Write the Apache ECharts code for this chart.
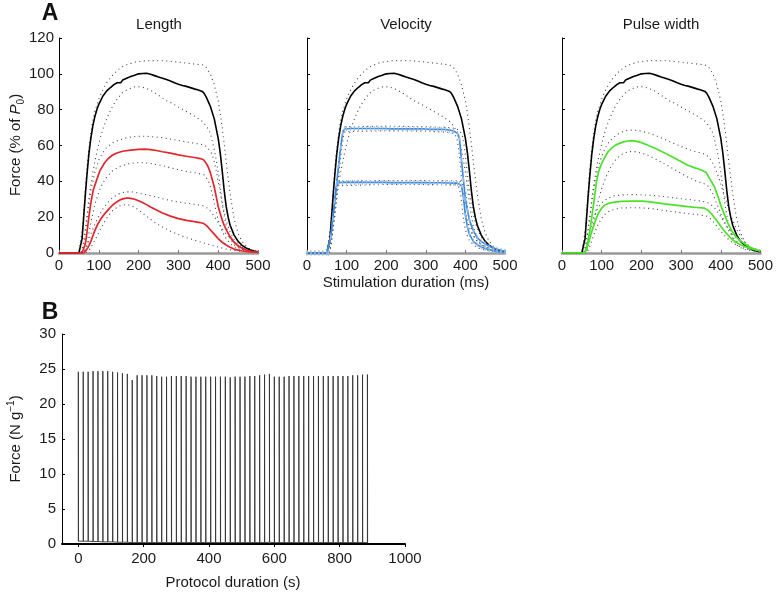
<!DOCTYPE html>
<html>
<head>
<meta charset="utf-8">
<script src="https://cdn.jsdelivr.net/npm/echarts@6/dist/echarts.min.js"></script>
<style>html,body{margin:0;padding:0;background:#fff}#c{width:776px;height:594px}</style>
</head>
<body>
<div id="c"></div>
<script>
// ---------- Panel A data: force (% of P0) vs stimulation duration (ms) ----------
const blackMean = [[0,0],[50,0],[55,0.5],[58,8],[62,20],[66,32],[70,43],[75,55],[80,64],[85,71],[90,76],[95,80],[100,83],[110,87.5],[120,90.5],[130,92.5],[138,94],[142,93.5],[146,95],[150,95.5],[155,95],[160,96.5],[170,97.5],[180,98.5],[185,99.5],[190,99.2],[200,100],[210,100.2],[215,99.8],[220,100.3],[230,99.8],[240,99],[250,98.2],[260,97.5],[270,96.8],[280,96],[290,95],[300,94.2],[310,93.5],[320,93],[330,92.3],[340,91.6],[350,91],[360,90.2],[365,89],[370,87],[380,82],[390,75],[400,64],[405,56],[410,46],[415,35],[420,26],[425,20],[430,15.5],[440,10],[450,6.5],[460,4.3],[470,2.8],[480,1.8],[490,1.1],[500,0.7]];
const blackUpper = [[0,0],[50,0],[55,1],[60,15],[65,32],[70,47],[75,58],[80,67],[85,74],[90,79],[100,86],[110,91],[120,95],[130,98],[140,100.5],[150,102.5],[160,104],[175,105.5],[190,106.5],[210,107.2],[230,107.4],[260,107.3],[290,106.8],[320,106],[340,105.5],[360,105],[370,103.5],[380,100],[390,94],[400,85],[405,78],[410,70],[415,61],[420,51],[425,42],[430,33],[435,26],[440,19],[450,11],[460,6.5],[470,3.8],[480,2.2],[490,1.2],[500,0.7]];
const blackLower = [[0,0],[55,0],[60,4],[65,12],[70,20],[75,30],[80,38],[85,45],[90,51],[100,61],[110,69],[120,75],[130,80],[140,84],[150,87],[160,89.5],[170,91],[180,92],[190,92.7],[200,92.8],[210,92.5],[220,91.8],[230,90.8],[240,89.5],[250,88],[260,86.5],[270,85],[280,84],[290,82.8],[300,81.5],[320,79],[340,76.5],[360,73.5],[370,71],[380,67],[390,58],[395,52],[400,45],[405,37],[410,28],[415,21],[420,15],[430,8],[440,4.5],[450,3],[460,2],[480,1],[500,0.5]];

const lengthHighMean = [[0,0],[58,0],[62,1],[66,5],[70,11],[75,20],[80,28],[86,35],[95,41],[103,46],[115,50.5],[125,53],[135,54.7],[145,55.8],[160,56.8],[180,57.4],[200,57.8],[215,58],[230,57.7],[245,57.2],[260,56.5],[280,55.7],[300,54.8],[320,54],[340,53.3],[355,52.7],[363,52],[370,50],[375,48],[380,45],[385,41],[390,37],[395,31.5],[400,26],[405,22],[410,18.5],[415,15.5],[420,13],[430,9],[440,6],[450,4],[460,2.6],[470,1.7],[480,1.1],[490,0.7],[500,0.5]];
const lengthHighUpper = [[0,0],[55,0],[60,2],[65,9],[70,18],[75,27],[80,35],[90,45],[100,52],[110,56],[120,59],[135,61.5],[150,63],[170,64.3],[190,65],[210,65.2],[230,65],[260,64.4],[290,63.2],[320,62],[340,61.3],[360,60.5],[370,59.5],[380,57],[385,55],[390,51],[395,46],[400,40],[405,34],[410,28],[415,23],[420,18],[430,11.5],[440,7.5],[450,5],[460,3.3],[470,2],[480,1.3],[490,0.9],[500,0.6]];
const lengthHighLower = [[0,0],[62,0],[66,2],[70,5],[75,11],[80,17],[90,27],[100,34],[110,39],[120,42.5],[135,46],[150,48],[170,49.6],[190,50.3],[210,50.4],[230,50],[250,49.2],[270,48.2],[290,47],[310,46],[330,45.2],[350,44.4],[365,43.5],[375,40.5],[380,37.5],[385,33],[390,28],[395,23],[400,18.5],[405,15],[410,12],[420,8],[430,5.3],[440,3.5],[450,2.3],[470,1.2],[500,0.4]];
const lengthLowMean = [[0,0],[62,0],[66,0.8],[70,2],[75,4],[80,6.5],[85,9.5],[90,12.5],[97,16],[105,19],[115,22],[125,24.5],[135,26.8],[145,28.5],[155,29.8],[165,30.5],[172,30.7],[180,30.5],[190,30],[200,29.2],[210,28.2],[220,27],[230,25.7],[245,24],[260,22.3],[280,20.6],[300,19.2],[320,18.2],[340,17.5],[355,17],[365,16.3],[372,15],[380,13],[390,10.5],[400,8],[410,6],[420,4.5],[430,3.2],[440,2.2],[450,1.6],[460,1.1],[480,0.6],[500,0.4]];
const lengthLowUpper = [[0,0],[60,0],[65,1.5],[70,4],[75,7],[80,10.5],[90,16],[100,20.5],[110,24.5],[120,27.5],[135,31],[150,33],[165,34],[180,34.2],[200,33.5],[220,32.5],[240,31.5],[260,30.3],[280,29.3],[300,28.5],[320,27.8],[340,27.2],[360,26.5],[370,25.5],[380,23.5],[390,20.5],[400,17],[410,13.5],[420,10.5],[430,8],[440,6],[450,4.5],[460,3.2],[470,2.3],[480,1.6],[490,1.1],[500,0.8]];
const lengthLowLower = [[0,0],[66,0],[70,0.5],[75,1.5],[80,3],[90,7],[100,11.5],[110,15.5],[120,19.5],[130,22.5],[140,24.7],[150,26],[160,26.8],[170,27],[180,26.6],[190,25.5],[200,24],[210,22.3],[220,20.5],[230,18.8],[240,17.2],[250,15.8],[260,14.5],[280,12.2],[300,10.3],[320,8.6],[340,7.2],[360,5.9],[380,4.6],[400,3.3],[420,2.2],[440,1.4],[460,0.9],[480,0.5],[500,0.3]];

const velHighMean = [[0,0],[10,0],[20,0],[30,0],[40,0],[50,0],[55,0],[60,9],[65,19],[70,29],[75,39],[80,49],[85,59],[90,67],[95,69.2],[100,69.5],[110,69.5],[120,69.5],[130,69.5],[140,69.5],[150,69.5],[160,69.5],[170,69.5],[180,69.5],[190,69.5],[200,69.5],[210,69.3],[220,69.3],[230,69.3],[240,69.3],[250,69.3],[260,69.3],[270,69.3],[280,69.3],[290,69.3],[300,69.2],[310,69],[320,69],[330,69],[340,69],[350,68.9],[360,68.6],[370,68.1],[380,66.8],[385,64],[390,52],[395,41],[400,30],[405,24],[410,18.5],[420,12.5],[430,8.5],[440,6.5],[450,5],[460,3.8],[470,2.8],[480,2.1],[490,1.5],[500,1]];
const velHighUpper = [[0,0],[53,0],[58,6],[63,16],[68,26],[73,36],[78,46],[83,56],[88,64],[92,69],[96,70.5],[100,70.8],[200,70.8],[300,70.5],[360,70],[375,69.5],[385,68.5],[392,66],[397,60],[402,50],[407,40],[412,31],[418,24],[425,17],[435,11],[445,7.5],[460,4.5],[475,2.7],[490,1.6],[500,1.1]];
const velHighLower = [[0,0],[57,0],[62,7],[67,17],[72,27],[77,37],[82,47],[87,57],[92,65],[96,67.8],[100,68.2],[200,68.2],[300,68],[360,67.3],[372,66.5],[378,64.5],[383,58],[388,47],[392,37],[396,29],[400,23],[405,18],[410,14],[418,10],[428,7],[440,4.8],[455,3.1],[470,2],[485,1.2],[500,0.7]];
const velLowMean = [[0,0],[10,0],[20,0],[30,0],[40,0],[50,0],[55,0],[60,9],[65,19],[70,29],[75,37.5],[80,39.2],[90,39.4],[100,39.4],[110,39.4],[120,39.4],[130,39.4],[140,39.4],[150,39.4],[160,39.4],[170,39.4],[180,39.4],[190,39.4],[200,39.4],[210,39.3],[220,39.3],[230,39.3],[240,39.3],[250,39.3],[260,39.3],[270,39.3],[280,39.3],[290,39.3],[300,39.3],[310,39.2],[320,39.2],[330,39.2],[340,39.2],[350,39.1],[360,39.1],[370,39],[380,39],[385,38.6],[390,37.5],[395,31],[400,21],[405,14.5],[410,10.5],[420,6.5],[430,4.6],[440,3.4],[450,2.5],[460,1.8],[470,1.3],[480,0.9],[490,0.6],[500,0.5]];
const velLowUpper = [[0,0],[53,0],[58,6],[63,16],[68,26],[73,36],[77,40],[80,40.5],[200,40.5],[300,40.5],[380,40.3],[390,40],[395,39],[400,35],[404,28],[408,21],[413,15],[420,10],[430,6.5],[440,4.6],[455,3],[470,2],[485,1.3],[500,0.9]];
const velLowLower = [[0,0],[57,0],[62,7],[67,17],[72,27],[75,33],[78,37.5],[82,38.2],[200,38.3],[300,38.2],[375,38],[383,37],[388,33],[391,27],[394,21],[398,15],[403,10.5],[410,7],[420,4.5],[430,3],[445,1.9],[460,1.2],[480,0.6],[500,0.4]];

const pwHighMean = [[0,0],[57,0],[62,3],[66,7],[70,12],[75,20],[80,28],[87,40],[93,46],[100,50],[108,53.5],[116,56.5],[125,58.5],[135,60.2],[145,61.2],[155,62],[165,62.5],[175,62.7],[185,62.4],[200,61.6],[215,60.3],[234,58.5],[255,56.2],[276,53.8],[295,51.6],[317,49],[335,47.5],[351,46.3],[363,44.9],[372,41.5],[384,37],[393,31.5],[401,26],[410,21],[418,16.6],[426,13],[435,10],[447,7.2],[460,5.2],[475,3.1],[493,1.5],[500,1]];
const pwHighUpper = [[0,0],[55,0],[60,5],[65,12],[70,20],[75,28],[80,36],[90,47],[100,54],[110,59],[120,62.5],[135,65.5],[150,67.5],[165,68.5],[180,68.7],[200,68],[220,66.8],[240,65.2],[260,63.3],[280,61.3],[300,59.5],[320,57.7],[340,56.3],[355,55.5],[365,54.5],[375,52],[385,48],[395,42],[405,35],[415,28],[425,21],[435,15.5],[445,11],[455,7.5],[465,5],[480,2.8],[500,1.3]];
const pwHighLower = [[0,0],[60,0],[65,3],[70,7],[75,12],[80,18],[90,28],[100,36],[110,42],[120,47],[135,52],[150,55],[165,56.5],[180,56.7],[200,55.8],[220,54.2],[240,52],[260,49.5],[280,47],[300,44.5],[320,42],[340,40],[360,38.5],[370,37],[380,33],[390,27.5],[400,22],[410,17],[420,12.5],[430,9],[440,6.4],[450,4.6],[465,2.8],[480,1.7],[500,0.8]];
const pwLowMean = [[0,0],[57,0],[62,2],[66,5],[71,9],[75,12],[79,14.7],[85,18.5],[91,22],[100,25],[108,26.8],[118,27.8],[133,28.4],[150,28.8],[175,28.9],[200,28.9],[217,28.7],[240,28],[259,27.4],[290,26.6],[317,25.9],[340,25.4],[359,25],[368,23.8],[376,22],[388,18.5],[401,14.7],[413,11.2],[426,8.2],[438,6],[451,4.5],[468,3],[485,1.8],[500,1.2]];
const pwLowUpper = [[0,0],[57,0],[62,4],[67,9],[72,14],[80,20],[90,25],[100,28],[115,30.5],[130,31.8],[150,32.4],[175,32.6],[200,32.5],[225,32.2],[250,31.7],[275,31],[300,30.3],[325,29.7],[350,29],[365,28.3],[375,27],[385,25],[395,22],[405,18.5],[415,15],[425,12],[435,9.3],[445,7.2],[455,5.5],[470,3.5],[485,2.2],[500,1.4]];
const pwLowLower = [[0,0],[62,0],[67,2],[72,5],[80,10],[90,15.5],[100,19.5],[110,22],[120,23.5],[135,24.6],[150,25.1],[175,25.3],[200,25.2],[225,24.8],[250,24],[275,23.2],[300,22.5],[325,21.8],[350,21.2],[365,20.5],[375,19],[385,16.5],[395,13.5],[405,10.8],[415,8.4],[425,6.5],[435,5],[445,3.8],[460,2.5],[480,1.4],[500,0.9]];

const panelTitles = ['Length', 'Velocity', 'Pulse width'];
const stimTicks = [0, 100, 200, 300, 400, 500];
const forcePctTicks = [0, 20, 40, 60, 80, 100, 120];

// ---------- Panel B data: force (N g-1) vs protocol duration (s) ----------
const spikeTimes = [0,15,30,45,60,75,90,105,120,135,150,165,180,195,210,225,240,255,270,285,300,315,330,345,360,375,390,405,420,435,450,465,480,495,510,525,540,555,570,585,600,615,630,645,660,675,690,705,720,735,750,765,780,795,810,825,840,855,870,885];
const spikePeaks = [24.6,24.6,24.6,24.7,24.7,24.7,24.7,24.6,24.5,24.4,24.3,23.4,24.1,24.1,24.1,24.1,24.0,23.9,23.9,24.0,24.0,24.0,24.0,23.9,23.9,23.9,23.9,23.9,23.9,23.9,23.9,23.8,23.9,23.9,23.9,24.0,24.0,24.1,24.2,24.3,23.9,23.9,23.9,24.0,24.0,24.0,24.0,24.0,24.0,24.0,24.0,24.0,24.0,24.0,24.0,24.0,24.1,24.1,24.2,24.2];
const spikeBase = [0.4,0.4,0.4,0.35,0.35,0.3,0.3,0.3,0.25,0.25,0.25,0.2,0.2,0.2,0.2,0.2,0.2,0.2,0.2,0.2,0.2,0.2,0.2,0.2,0.2,0.2,0.2,0.2,0.2,0.2,0.2,0.2,0.2,0.2,0.2,0.2,0.2,0.2,0.2,0.25,0.2,0.2,0.2,0.2,0.2,0.2,0.2,0.2,0.2,0.2,0.2,0.2,0.2,0.2,0.2,0.2,0.2,0.2,0.2,0.2];
const protocolTicks = [0, 200, 400, 600, 800, 1000];
const forceTicks = [0, 5, 10, 15, 20, 25, 30];

// ---------- build chart ----------
const FONT = '"Liberation Sans", Arial, Helvetica, sans-serif';
const TXT = '#1a1a1a';
const RED = '#e3262c', BLUE = '#3a8ae0', GREEN = '#4ce22a';
const plain = v => String(v);

const grids = [
  {left: 59, top: 38, width: 199, height: 215},
  {left: 307, top: 38, width: 198, height: 215},
  {left: 562, top: 38, width: 199, height: 215},
  {left: 62, top: 334, width: 343, height: 210}
];

const xAxes = [0,1,2].map(i => ({
  type: 'value', gridIndex: i, min: 0, max: 500, interval: 100,
  axisLine: {show: true, lineStyle: {color: '#9a9a9a', width: 2.5}},
  axisTick: {show: true, inside: true, length: 3, lineStyle: {color: '#777'}},
  axisLabel: {show: true, margin: 5, fontSize: 15, fontFamily: FONT, color: TXT, formatter: plain},
  splitLine: {show: false}
}));
xAxes.push({
  type: 'value', gridIndex: 3, min: -50, max: 1000,
  axisLine: {show: true, onZero: false, lineStyle: {color: '#000', width: 2}},
  axisTick: {show: true, inside: false, length: 3, customValues: protocolTicks, lineStyle: {color: '#000'}},
  axisLabel: {show: true, margin: 7, fontSize: 15, fontFamily: FONT, color: TXT, customValues: protocolTicks, formatter: plain},
  splitLine: {show: false}
});

const yAxes = [0,1,2].map(i => ({
  type: 'value', gridIndex: i, min: 0, max: 120, interval: 20,
  axisLine: {show: true, lineStyle: {color: '#000', width: 1}},
  axisTick: {show: true, inside: true, length: 3, lineStyle: {color: '#000'}},
  axisLabel: {show: i === 0, margin: 5, fontSize: 15, fontFamily: FONT, color: TXT, formatter: plain},
  splitLine: {show: false}
}));
yAxes.push({
  type: 'value', gridIndex: 3, min: 0, max: 30, interval: 5,
  axisLine: {show: true, onZero: false, lineStyle: {color: '#000', width: 1}},
  axisTick: {show: true, inside: true, length: 3, lineStyle: {color: '#000'}},
  axisLabel: {show: true, margin: 6, fontSize: 15, fontFamily: FONT, color: TXT, formatter: plain},
  splitLine: {show: false}
});

function solid(idx, data, color, width, z) {
  return {type: 'line', xAxisIndex: idx, yAxisIndex: idx, data: data, showSymbol: false,
    smooth: false, animation: false, z: z || 3,
    lineStyle: {color: color, width: width}};
}
function dotted(idx, data) {
  return {type: 'line', xAxisIndex: idx, yAxisIndex: idx, data: data, showSymbol: false,
    animation: false, z: 2,
    lineStyle: {color: '#444', width: 1.1, type: [1, 3.5]}};
}
const tickPath = 'path://M0,0h1v6h-1z';
function marked(idx, data, color) {
  return {type: 'line', xAxisIndex: idx, yAxisIndex: idx, data: data, showSymbol: true,
    symbol: tickPath, symbolSize: [1, 5], animation: false, z: 4,
    itemStyle: {color: '#9dbbe0'},
    lineStyle: {color: color, width: 1.6}};
}

const series = [];
[0,1,2].forEach(i => {
  series.push(dotted(i, blackUpper), dotted(i, blackLower), solid(i, blackMean, '#000', 1.6, 3));
});
series.push(dotted(0, lengthHighUpper), dotted(0, lengthHighLower), dotted(0, lengthLowUpper), dotted(0, lengthLowLower));
series.push(solid(0, lengthHighMean, RED, 1.7, 4), solid(0, lengthLowMean, RED, 1.7, 4));
series.push(dotted(1, velHighUpper), dotted(1, velHighLower), dotted(1, velLowUpper), dotted(1, velLowLower));
series.push(marked(1, velHighMean, BLUE), marked(1, velLowMean, BLUE));
series.push(dotted(2, pwHighUpper), dotted(2, pwHighLower), dotted(2, pwLowUpper), dotted(2, pwLowLower));
series.push(solid(2, pwHighMean, GREEN, 1.7, 4), solid(2, pwLowMean, GREEN, 1.7, 4));

// spike train
const spikeData = [];
spikeTimes.forEach((t, k) => {
  spikeData.push([t, spikeBase[k]], [t, spikePeaks[k]], [t + 0.5, spikeBase[k]]);
});
series.push({type: 'line', xAxisIndex: 3, yAxisIndex: 3, data: spikeData, showSymbol: false,
  animation: false, lineStyle: {color: '#333', width: 0.9}});

const graphic = [
  {type: 'text', x: 50, y: 14, style: {text: 'A', font: 'bold 23px ' + FONT, fill: '#111', align: 'center', verticalAlign: 'middle'}},
  {type: 'text', x: 50, y: 313, style: {text: 'B', font: 'bold 23px ' + FONT, fill: '#111', align: 'center', verticalAlign: 'middle'}},
  {type: 'text', x: 159, y: 25, style: {text: panelTitles[0], font: '15px ' + FONT, fill: TXT, align: 'center', verticalAlign: 'middle'}},
  {type: 'text', x: 406, y: 25, style: {text: panelTitles[1], font: '15px ' + FONT, fill: TXT, align: 'center', verticalAlign: 'middle'}},
  {type: 'text', x: 661, y: 25, style: {text: panelTitles[2], font: '15px ' + FONT, fill: TXT, align: 'center', verticalAlign: 'middle'}},
  {type: 'text', x: 406, y: 283, style: {text: 'Stimulation duration (ms)', font: '15px ' + FONT, fill: TXT, align: 'center', verticalAlign: 'middle'}},
  {type: 'text', x: 233, y: 583, style: {text: 'Protocol duration (s)', font: '15px ' + FONT, fill: TXT, align: 'center', verticalAlign: 'middle'}},
  {type: 'text', x: 16, y: 145, rotation: Math.PI / 2,
    style: {text: '{n|Force (% of }{i|P}{s|0}{n|)}', fill: TXT, align: 'center', verticalAlign: 'middle',
      rich: {
        n: {fontSize: 15, fontFamily: FONT, fill: TXT, lineHeight: 20, verticalAlign: 'middle'},
        i: {fontSize: 15, fontFamily: FONT, fontStyle: 'italic', fill: TXT, lineHeight: 20, verticalAlign: 'middle'},
        s: {fontSize: 10, fontFamily: FONT, fill: TXT, lineHeight: 8, verticalAlign: 'bottom'}
      }}},
  {type: 'text', x: 16, y: 439, rotation: Math.PI / 2,
    style: {text: '{n|Force (N g}{s|\u22121}{n|)}', fill: TXT, align: 'center', verticalAlign: 'middle',
      rich: {
        n: {fontSize: 15, fontFamily: FONT, fill: TXT, lineHeight: 20, verticalAlign: 'middle'},
        s: {fontSize: 10, fontFamily: FONT, fill: TXT, lineHeight: 10, verticalAlign: 'top'}
      }}}
];

const chart = echarts.init(document.getElementById('c'), null, {renderer: 'canvas'});
chart.setOption({
  animation: false,
  backgroundColor: '#fff',
  grid: grids,
  xAxis: xAxes,
  yAxis: yAxes,
  series: series,
  graphic: graphic
});
</script>
</body>
</html>
